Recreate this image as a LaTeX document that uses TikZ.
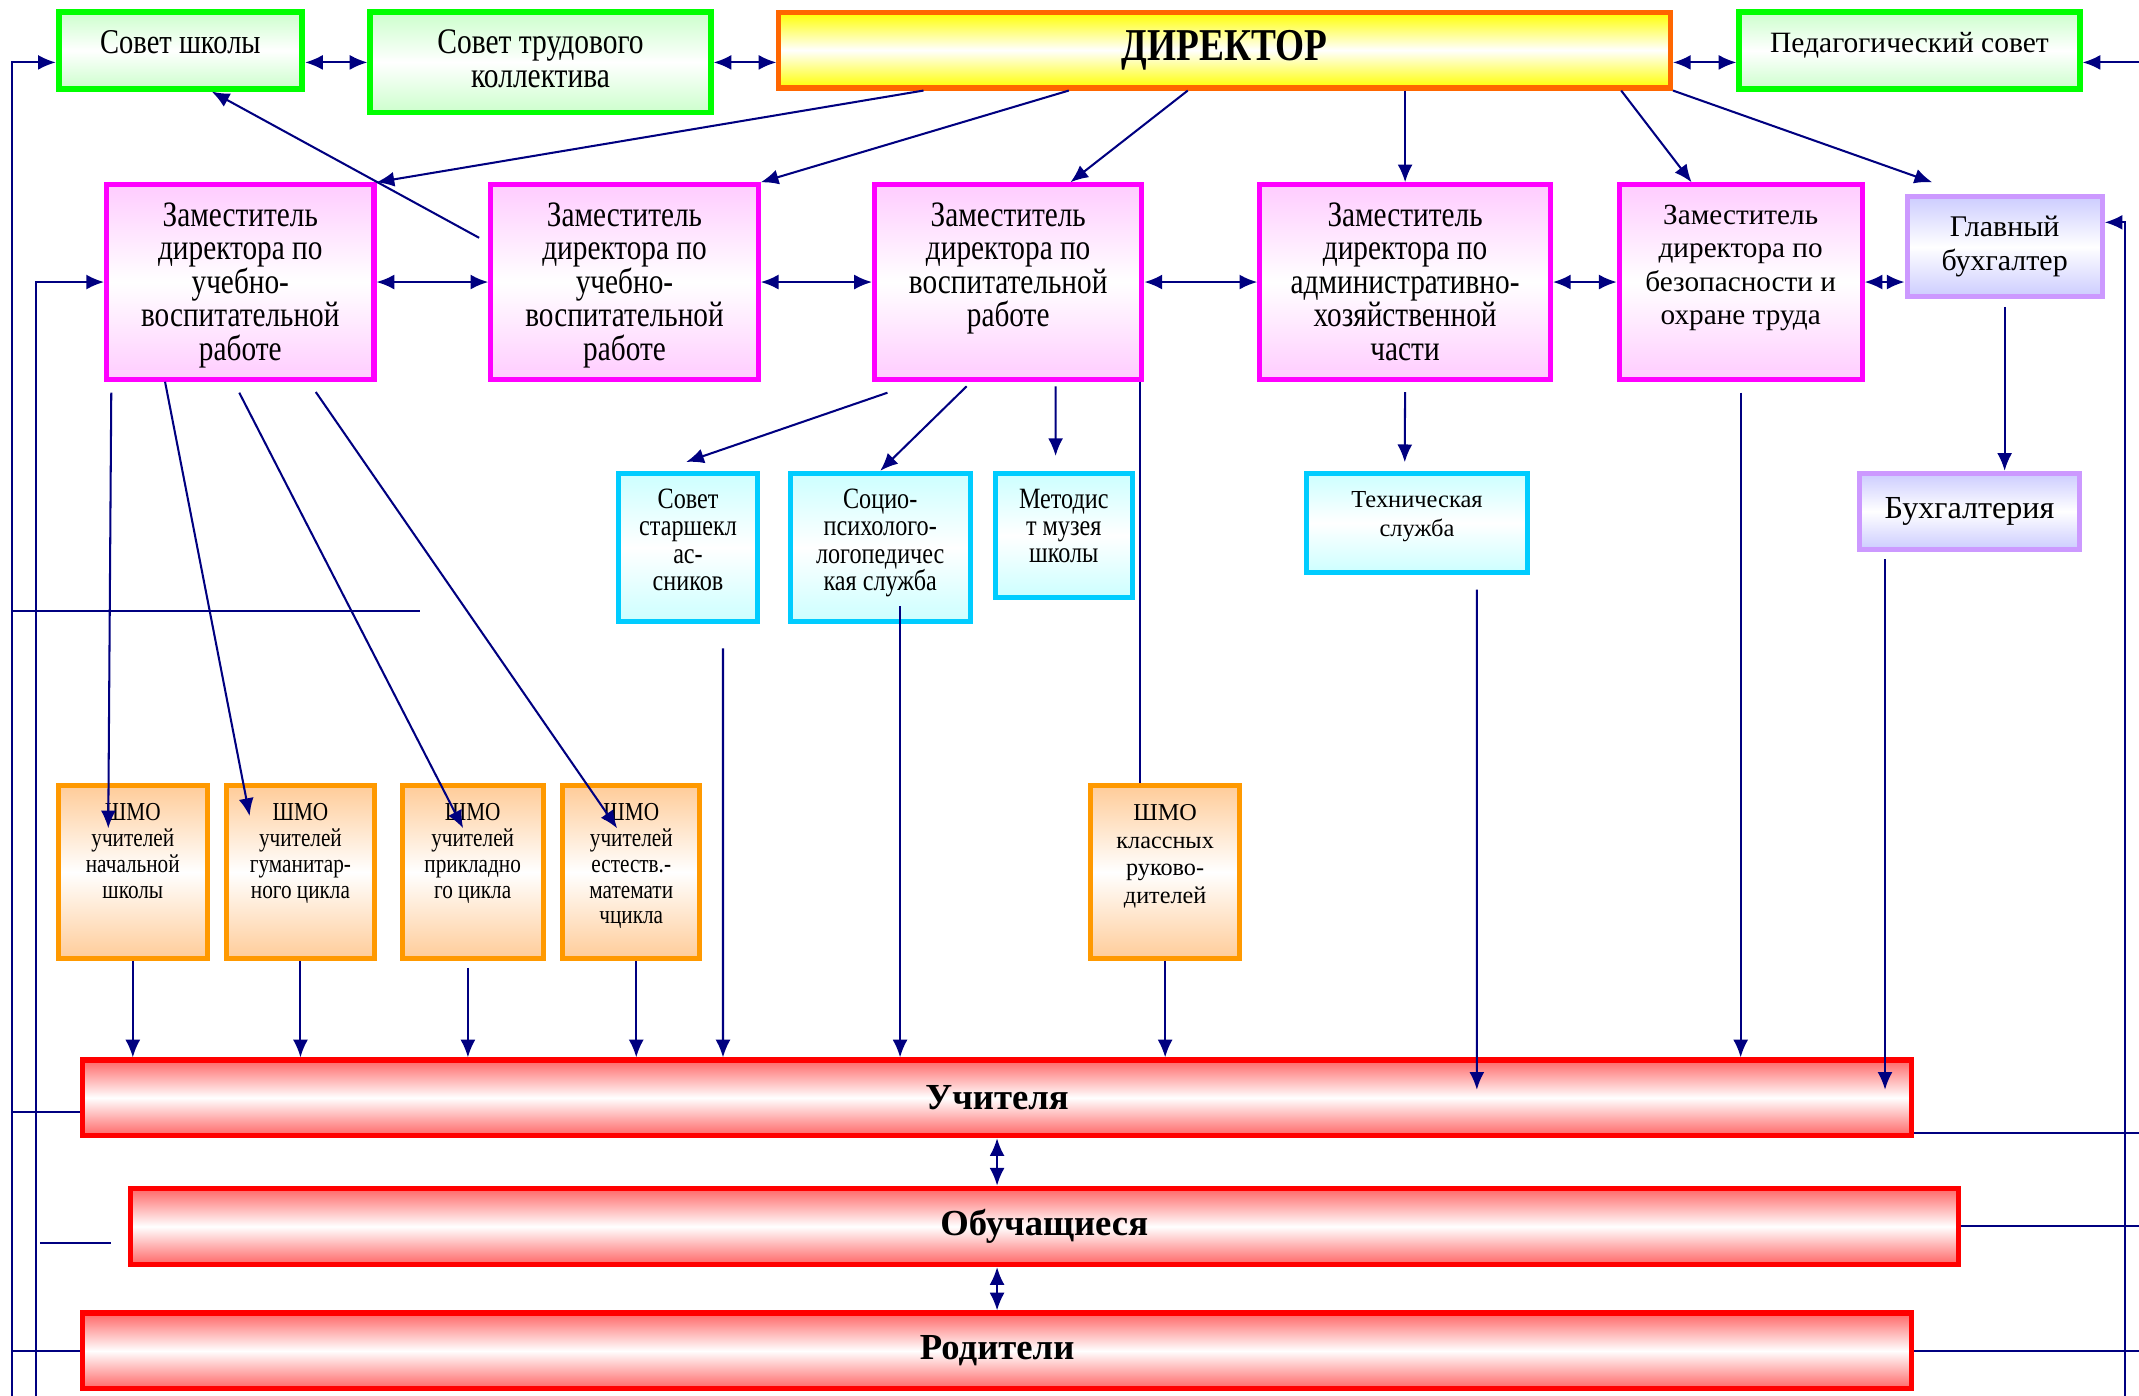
\documentclass[tikz,border=0pt]{standalone}
\usepackage{fontspec}
\setmainfont{Liberation Serif}
\newfontfamily\narrowf{Liberation Serif}[FakeStretch=0.82]
\usetikzlibrary{arrows.meta,calc}

\definecolor{navy}{RGB}{0,0,128}
\definecolor{grnB}{RGB}{0,255,0}
\definecolor{grnF}{RGB}{204,255,204}
\definecolor{dirB}{RGB}{255,102,0}
\definecolor{dirF}{RGB}{255,255,0}
\definecolor{magB}{RGB}{255,0,255}
\definecolor{magF}{RGB}{255,204,255}
\definecolor{lavB}{RGB}{204,153,255}
\definecolor{lavF}{RGB}{204,204,255}
\definecolor{cyB}{RGB}{0,204,255}
\definecolor{cyF}{RGB}{204,255,255}
\definecolor{orB}{RGB}{255,153,0}
\definecolor{orF}{RGB}{255,204,153}
\definecolor{redF}{RGB}{255,102,102}

% text set from the top of a box: width, height, top gap, lines
\newcommand{\tbox}[4]{\parbox[c][#2][t]{#1}{\centering\vspace*{#3}\strut #4}}

\tikzset{
  box/.style={draw, line width=0.75mm, inner sep=0pt, align=center},
  council/.style={box, line width=0.85mm, draw=grnB, top color=grnF, bottom color=grnF, middle color=white},
  head/.style={box, draw=dirB, top color=dirF, bottom color=dirF, middle color=white},
  deputy/.style={box, draw=magB, top color=magF, bottom color=magF, middle color=white},
  acct/.style={box, draw=lavB, top color=lavF, bottom color=lavF, middle color=white},
  service/.style={box, draw=cyB, top color=cyF, bottom color=cyF, middle color=white},
  shmo/.style={box, draw=orB, top color=orF, bottom color=orF, middle color=white},
  bar/.style={box, draw=red, top color=redF, bottom color=redF, middle color=white,
    font=\bfseries\fontsize{15.3}{18}\selectfont},
  >={Latex[length=2.6mm,width=2.2mm]},
  conn/.style={color=navy, line width=0.3mm, ->},
  both/.style={color=navy, line width=0.3mm, <->},
  bus/.style={color=navy, line width=0.3mm},
  narrow/.style 2 args={font=\narrowf\fontsize{#1}{#2}\selectfont},
  plain/.style 2 args={font=\fontsize{#1}{#2}\selectfont}
}

\begin{document}
\begin{tikzpicture}[x=0.2mm, y=-0.2mm]
  \useasboundingbox (0,0) rectangle (1568,1023);

  % top row
  \node[council, narrow={14.5}{14.2}] (sch) at (132.25,37) {\tbox{35.7mm}{11.2mm}{2.5mm}{Совет школы}};
  \node[council, narrow={15}{14.2}] (trud) at (396.25,45.75) {\tbox{49.9mm}{14.7mm}{2.5mm}{Совет трудового\\коллектива}};
  \node[head, minimum width=130.7mm, minimum height=11.1mm,
    font=\narrowf\bfseries\fontsize{19}{20}\selectfont] (dir) at (897.75,36.75) {ДИРЕКТОР};
  \node[council, plain={12.3}{14}] (ped) at (1399.75,37.25) {\tbox{49.9mm}{11.3mm}{2.5mm}{Педагогический совет}};

  % deputies
  \node[deputy, narrow={14.9}{14}] (z1) at (176.15,206.75) {\tbox{39.2mm}{28.5mm}{2.6mm}{Заместитель\\директора по\\учебно-\\воспитательной\\работе}};
  \node[deputy, narrow={14.9}{14}] (z2) at (457.8,206.75) {\tbox{39.2mm}{28.5mm}{2.6mm}{Заместитель\\директора по\\учебно-\\воспитательной\\работе}};
  \node[deputy, narrow={14.9}{14}] (z3) at (739.05,206.75) {\tbox{39.2mm}{28.5mm}{2.6mm}{Заместитель\\директора по\\воспитательной\\работе}};
  \node[deputy, narrow={14.9}{14}] (z4) at (1030,206.75) {\tbox{42.6mm}{28.5mm}{2.6mm}{Заместитель\\директора по\\административно-\\хозяйственной\\части}};
  \node[deputy, plain={12.2}{14}] (z5) at (1276,206.75) {\tbox{35.6mm}{28.5mm}{2.3mm}{Заместитель\\директора по\\безопасности и\\охране труда}};
  \node[acct, minimum width=28.6mm, minimum height=14.7mm, plain={12.5}{14}] (gb) at (1469.5,180.75) {Главный\\бухгалтер};

  % services
  \node[service, narrow={12.3}{11.4}] (ss) at (504.35,401.25) {\tbox{20.5mm}{21.7mm}{2.3mm}{Совет\\старшекл\\ас-\\сников}};
  \node[service, narrow={12.3}{11.4}] (sp) at (645.25,401.25) {\tbox{26.4mm}{21.7mm}{2.3mm}{Социо-\\психолого-\\логопедичес\\кая служба}};
  \node[service, narrow={12.3}{11.4}] (mm) at (779.8,392.45) {\tbox{20.1mm}{18.2mm}{2.3mm}{Методис\\т музея\\школы}};
  \node[service, plain={10.2}{12}] (ts) at (1038.75,383.25) {\tbox{32.3mm}{14.5mm}{2.1mm}{Техническая\\служба}};
  \node[acct, minimum width=32.3mm, minimum height=11.1mm, plain={13.4}{15}] (bh) at (1443.75,374.75) {Бухгалтерия};

  % methodical unions
  \node[shmo, narrow={10.8}{10.8}] (sh1) at (97.35,639.3) {\tbox{21.8mm}{25.3mm}{2.4mm}{ШМО\\учителей\\начальной\\школы}};
  \node[shmo, narrow={10.8}{10.8}] (sh2) at (220.25,639.3) {\tbox{21.8mm}{25.3mm}{2.4mm}{ШМО\\учителей\\гуманитар-\\ного цикла}};
  \node[shmo, narrow={10.8}{10.8}] (sh3) at (346.5,639.3) {\tbox{20.7mm}{25.3mm}{2.4mm}{ШМО\\учителей\\прикладно\\го цикла}};
  \node[shmo, narrow={10.8}{10.8}] (sh4) at (462.75,639.3) {\tbox{20.1mm}{25.3mm}{2.4mm}{ШМО\\учителей\\естеств.-\\математи\\чцикла}};
  \node[shmo, plain={10.1}{11.6}] (sh5) at (854.1,639.3) {\tbox{21.9mm}{25.3mm}{2.2mm}{ШМО\\классных\\руково-\\дителей}};

  % bottom bars
  \node[bar, minimum width=268.2mm, minimum height=11.1mm] (uch) at (730.9,804.75) {Учителя};
  \node[bar, minimum width=268.0mm, minimum height=11.2mm] (obu) at (765.45,899) {Обучащиеся};
  \node[bar, minimum width=268.2mm, minimum height=11.1mm] (rod) at (730.95,990.25) {Родители};

  \coordinate (lA) at (8.5,1023);
  \coordinate (lB) at (26.2,1023);
  \coordinate (lC) at (308,448);
  \coordinate (rA) at (1557.5,1023);
  \coordinate (rE) at (1568,0);
  \coordinate (uchL) at ($(uch.north west)!.67!(uch.south west)$);
  \coordinate (uchR) at ($(uch.north east)!.93!(uch.south east)$);
  \coordinate (uchA) at ($(uch.north)!.4!(uch.south)$);
  \coordinate (gbR) at ($(gb.north east)!.27!(gb.south east)$);

  \path[both]
    (sch.east |- trud.west) edge (trud.west)
    (trud.east) edge (dir.west |- trud.east)
    (dir.east |- trud.east) edge (ped.west |- trud.east)
    (z1) edge (z2)
    (z2) edge (z3)
    (z3) edge (z4)
    (z4) edge (z5)
    (z5.east) edge (gb.west |- z5.east)
    (uch.south) edge (uch.south |- obu.north)
    (uch.south |- obu.south) edge (uch.south |- rod.north);

  \path[conn]
    (677,0 |- dir.south) edge (z1.north east)
    (783.5,0 |- dir.south) edge (z2.north east)
    (870.7,0 |- dir.south) edge (784.7,0 |- z3.north)
    (z4.north |- dir.south) edge (z4.north)
    (1188.4,0 |- dir.south) edge (1240,0 |- z5.north)
    (dir.south east) edge (1416.4,0 |- z5.north)
    (rE |- trud.east) edge (ped.east |- trud.east)
    ([shift={(-6.7,40.7)}]z2.north west) edge (155.2,0 |- sch.south)
    ([shift={(5.3,8)}]z1.south west) edge ([shift={(-18,33)}]sh1.north)
    (121,0 |- z1.south) edge ([shift={(-37.25,24)}]sh2.north)
    ([shift={(-0.75,8)}]z1.south) edge ([shift={(-7,33)}]sh3.north)
    ([shift={(55.35,7.5)}]z1.south) edge ([shift={(-10.35,33)}]sh4.north)
    ([shift={(-88.5,8)}]z3.south) edge ([shift={(-1.35,-6.5)}]ss.north)
    ([shift={(-30.45,3.3)}]z3.south) edge (sp.north)
    ([shift={(34.75,3.3)}]z3.south) edge ([shift={(-6,-10.8)}]mm.north)
    ([shift={(0,7.5)}]z4.south) edge ([shift={(-9,-6.3)}]ts.north)
    ([shift={(0,5.5)}]gb.south) edge (gb.south |- bh.north)
    (sh1.south) edge (sh1.south |- uch.north)
    (sh2.south) edge (sh2.south |- uch.north)
    ([shift={(-3.5,5)}]sh3.south) edge (343,0 |- uch.north)
    (466.4,0 |- sh4.south) edge (466.4,0 |- uch.north)
    ([shift={(25.65,18)}]ss.south) edge (530,0 |- uch.north)
    ([shift={(14.55,-13)}]sp.south) edge (659.8,0 |- uch.north)
    (sh5.south) edge (sh5.south |- uch.north)
    ([shift={(43.85,10.8)}]ts.south) edge (1082.6,0 |- uchA)
    ([shift={(0,8)}]z5.south) edge (z5.south |- uch.north)
    ([shift={(-61.95,5.7)}]bh.south) edge (1381.8,0 |- uchA);

  % side buses
  \draw[conn] (lA) |- (sch.west |- trud.west);
  \draw[conn] (lB) |- (z1.west);
  \draw[conn] (rA) |- (gbR);
  \draw[bus] (836,0 |- z3.south) -- (836,0 |- sh5.north);
  \draw[bus] (lA |- lC) -- (lC);
  \draw[bus] (lA |- uchL) -- (uchL);
  \draw[bus] (lA |- rod.west) -- (rod.west);
  \draw[bus] ([shift={(-64.4,12)}]obu.west) -- ([shift={(-12.1,12)}]obu.west);
  \draw[bus] (uchR) -- (uchR -| rE);
  \draw[bus] (obu.east) -- (obu.east -| rE);
  \draw[bus] (rod.east) -- (rod.east -| rE);
\end{tikzpicture}
\end{document}
